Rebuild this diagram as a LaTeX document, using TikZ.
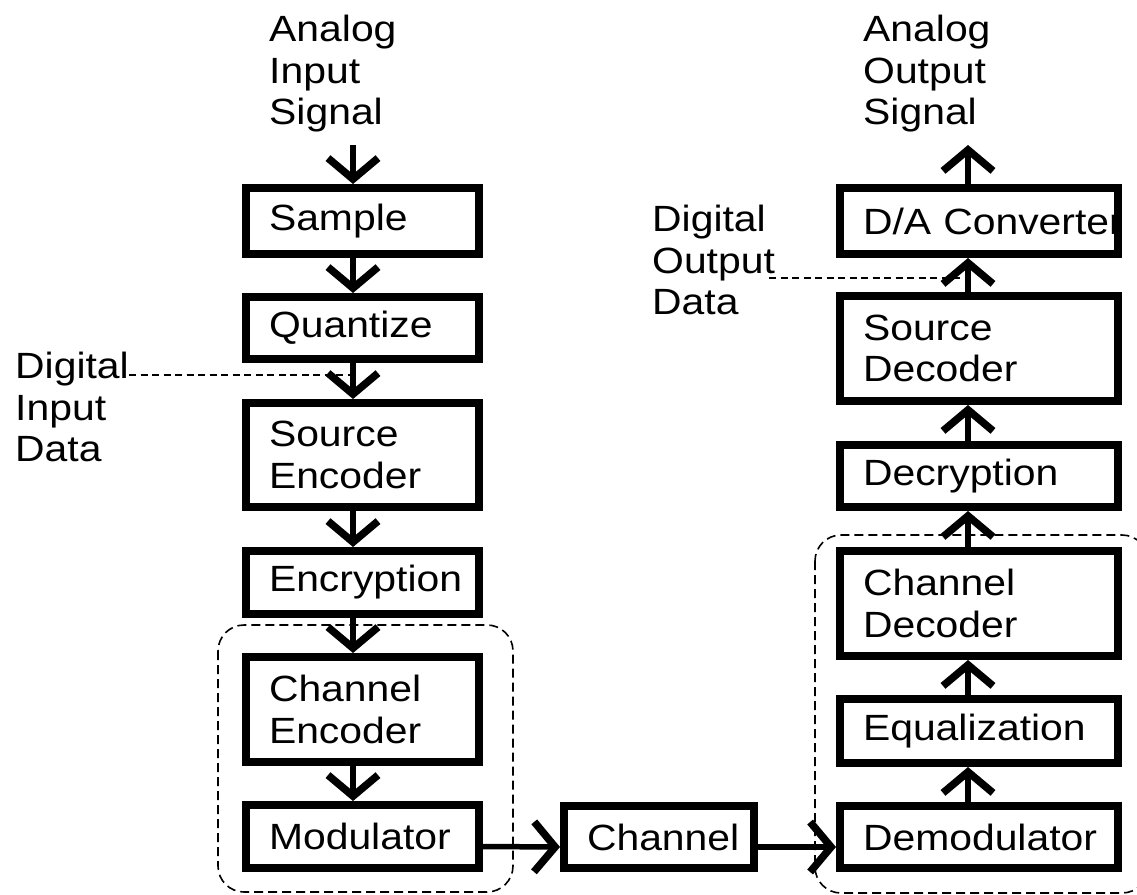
\documentclass[tikz,border=0pt]{standalone}
\usepackage{fontspec}
\setmainfont{Liberation Sans}[FakeStretch=1.12]
\usetikzlibrary{arrows.meta}
\begin{document}
\begin{tikzpicture}[x=1pt,y=-1pt,
  every node/.style={font=\fontsize{36.5}{41.5}\selectfont},
  blk/.style={draw,line width=8pt,rectangle,inner xsep=23pt,inner ysep=0pt,align=left},
  lbox/.style={blk,text width=187pt,minimum height=#1},
  rbox/.style={blk,text width=232pt,minimum height=#1},
  lbl/.style={inner sep=0pt,align=left,anchor=north west},
  arr/.style={line width=5.5pt,-{Straight Barb[length=21pt,width=50pt,line width=7.5pt]}},
  dashline/.style={line width=1.4pt,dash pattern=on 7pt off 4.5pt},
  group/.style={line width=1.6pt,dash pattern=on 9pt off 5pt,rounded corners=26pt}]
\useasboundingbox (0,0) rectangle (1137,894);
% groups
\draw[group] (218,625) rectangle (513,892);
\draw[group] (815,535) rectangle (1148,893);
% left column
\node[lbox=66pt] (sample) at (362.5,221) {Sample};
\node[lbox=62pt] (quant) at (362.5,328) {Quantize};
\node[lbox=104pt] (senc) at (362.5,455) {Source\\Encoder};
\node[lbox=63pt] (encr) at (362.5,582.5) {Encryption};
\node[lbox=105pt] (cenc) at (362.5,709.5) {Channel\\Encoder};
\node[lbox=63pt] (mod) at (362.5,836.5) {Modulator};
% channel
\node[blk,text width=144pt,minimum height=62pt] (chan) at (659,837) {Channel};
% right column
\node[rbox=66pt] (da) at (979,221) {\mbox{D/A Converter}};
\node[rbox=105pt] (sdec) at (979,348.5) {Source\\Decoder};
\node[rbox=62pt] (decr) at (979,476) {Decryption};
\node[rbox=105pt] (cdec) at (979,603.5) {Channel\\Decoder};
\node[rbox=64pt] (eq) at (979,731) {Equalization};
\node[rbox=62pt] (demod) at (979,837) {Demodulator};
% free labels
\node[lbl] (ain) at (269,15) {Analog\\Input\\Signal};
\node[lbl] (aout) at (863,15) {Analog\\Output\\Signal};
\node[lbl] (din) at (15,352) {Digital\\Input\\Data};
\node[lbl] (dout) at (652,205) {Digital\\Output\\Data};
\coordinate (inTop) at (353,145);
\coordinate (outTop) at (968,145);
% arrows left
\draw[arr] (inTop) -- ([xshift=-9.5pt]sample.north);
\draw[arr] ([xshift=-9.5pt]sample.south) -- ([xshift=-9.5pt]quant.north);
\draw[arr] ([xshift=-9.5pt]quant.south) -- ([xshift=-9.5pt]senc.north);
\draw[arr] ([xshift=-9.5pt]senc.south) -- ([xshift=-9.5pt]encr.north);
\draw[arr] ([xshift=-9.5pt]encr.south) -- ([xshift=-9.5pt]cenc.north);
\draw[arr] ([xshift=-9.5pt]cenc.south) -- ([xshift=-9.5pt]mod.north);
% horizontal
\draw[arr] ([yshift=-10pt]mod.east) -- ([yshift=-10pt]chan.west);
\draw[arr] ([yshift=-10pt]chan.east) -- ([yshift=-10pt]demod.west);
% arrows right
\draw[arr] ([xshift=-11pt]demod.north) -- ([xshift=-11pt]eq.south);
\draw[arr] ([xshift=-11pt]eq.north) -- ([xshift=-11pt]cdec.south);
\draw[arr] ([xshift=-11pt]cdec.north) -- ([xshift=-11pt]decr.south);
\draw[arr] ([xshift=-11pt]decr.north) -- ([xshift=-11pt]sdec.south);
\draw[arr] ([xshift=-11pt]sdec.north) -- ([xshift=-11pt]da.south);
\draw[arr] ([xshift=-11pt]da.north) -- (outTop);
% dashed data taps
\coordinate (dinS) at (129,375);
\coordinate (dinE) at (353,375);
\coordinate (doutS) at (769,278);
\coordinate (doutE) at (968,278);
\draw[dashline] (dinS) -- (dinE);
\draw[dashline] (doutS) -- (doutE);
\end{tikzpicture}
\end{document}
